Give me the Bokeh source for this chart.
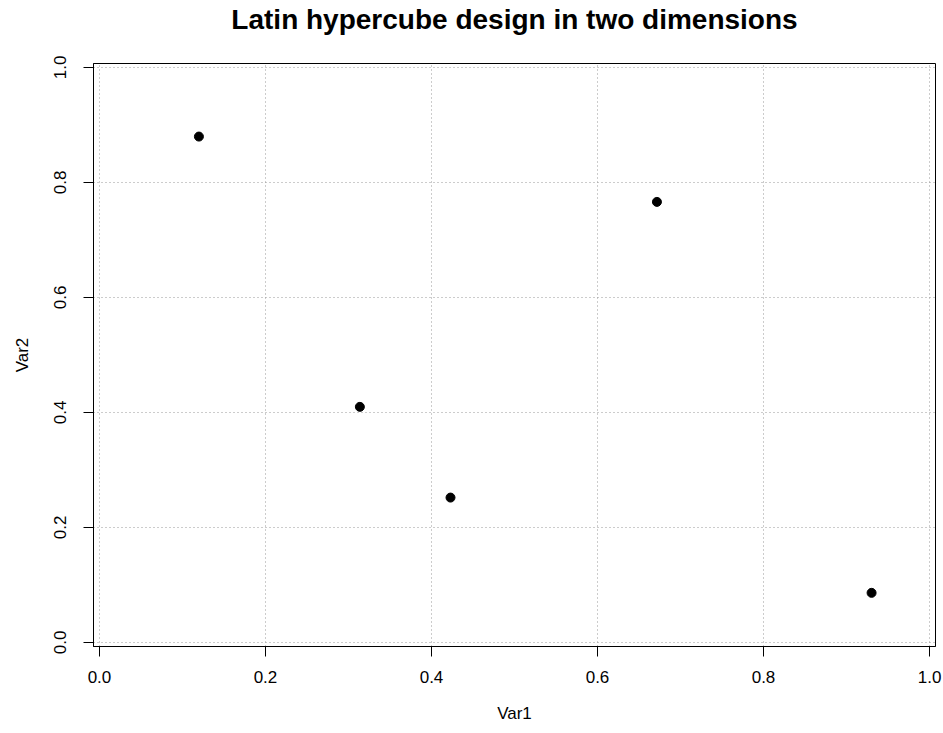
from bokeh.plotting import figure
from bokeh.models import Range1d, FixedTicker, PrintfTickFormatter, Title
from bokeh.embed import file_html
from bokeh.resources import INLINE

var1 = [0.1198, 0.3137, 0.4229, 0.6716, 0.9302]
var2 = [0.8797, 0.4096, 0.2518, 0.7661, 0.0861]
ticks = [0.0, 0.2, 0.4, 0.6, 0.8, 1.0]
title_text = "Latin hypercube design in two dimensions"

FONT = "Liberation Sans"

p = figure(width=943, height=733,
           x_range=Range1d(-0.0072, 1.0072), y_range=Range1d(-0.0072, 1.0068),
           output_backend="svg", toolbar_location=None,
           min_border_left=93, min_border_right=8, min_border_top=63, min_border_bottom=87)

# spacer between frame and title, then the title itself
p.add_layout(Title(text=" ", text_font_size="20px", standoff=3), "above")
p.add_layout(Title(text=title_text, align="center", vertical_align="top",
                   text_font=FONT, text_font_style="bold", text_font_size="28px",
                   text_color="black", standoff=0), "above")

p.outline_line_color = "black"
p.outline_line_width = 1
p.outline_line_alpha = 1

for ax in (p.xaxis[0], p.yaxis[0]):
    ax.ticker = FixedTicker(ticks=ticks, minor_ticks=[])
    ax.formatter = PrintfTickFormatter(format="%.1f")
    ax.axis_line_color = "black"
    ax.major_tick_line_color = "black"
    ax.major_tick_out = 10
    ax.major_tick_in = 0
    ax.minor_tick_line_color = None
    ax.major_label_text_font = FONT
    ax.major_label_text_font_size = "17px"
    ax.major_label_text_color = "black"
    ax.axis_label_text_font = FONT
    ax.axis_label_text_font_size = "17px"
    ax.axis_label_text_font_style = "normal"
    ax.axis_label_text_color = "black"

p.xaxis.axis_label = "Var1"
p.yaxis.axis_label = "Var2"
p.xaxis.major_label_standoff = 14
p.yaxis.major_label_standoff = 17
p.yaxis.major_label_orientation = "vertical"
p.xaxis.axis_label_standoff = 18
p.yaxis.axis_label_standoff = 20

for g in (p.xgrid[0], p.ygrid[0]):
    g.ticker = FixedTicker(ticks=ticks)
    g.grid_line_color = "#999999"
    g.grid_line_dash = "1 3"
    g.grid_line_width = 1

p.scatter(var1, var2, size=9, fill_color="black", line_color="black")

open("out.html", "w").write(file_html(p, INLINE))
